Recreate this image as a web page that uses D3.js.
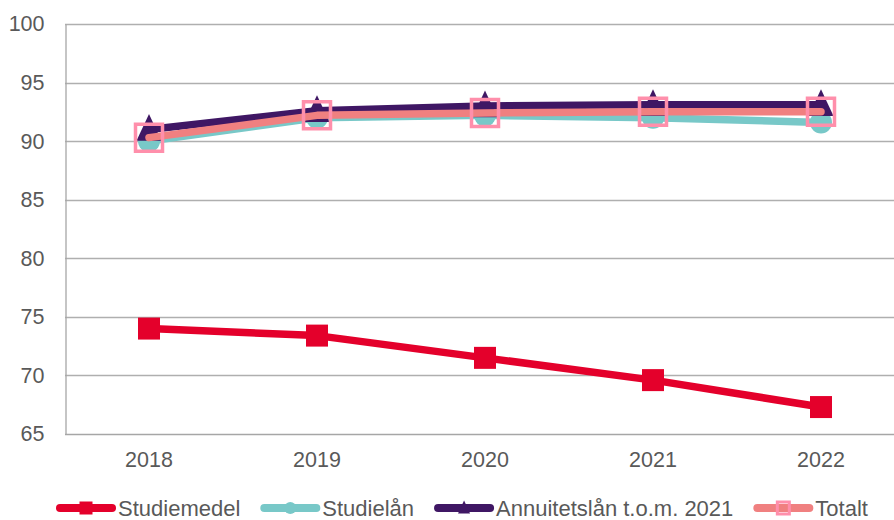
<!DOCTYPE html>
<html>
<head>
<meta charset="utf-8">
<script src="https://cdn.jsdelivr.net/npm/d3@7"></script>
<style>
  html, body { margin: 0; padding: 0; background: #fff; }
  svg { display: block; }
  text { font-family: "Liberation Sans", Arial, sans-serif; fill: #595959; }
</style>
</head>
<body>
<svg id="chart" width="894" height="520"></svg>
<script>
const categories = ["2018", "2019", "2020", "2021", "2022"];
const seriesNames = ["Studiemedel", "Studielån", "Annuitetslån t.o.m. 2021", "Totalt"];
const studiemedel = [74.0, 73.4, 71.5, 69.6, 67.3];
const studielan = [90.0, 92.0, 92.2, 92.0, 91.6];
const annuitetslan = [91.0, 92.6, 93.0, 93.1, 93.1];
const totalt = [90.3, 92.2, 92.4, 92.5, 92.5];
const yTicks = [65, 70, 75, 80, 85, 90, 95, 100];

const series = [
  { name: seriesNames[0], values: studiemedel, line: "#E4002B", marker: "square", mfill: "#E4002B", mstroke: "none" },
  { name: seriesNames[1], values: studielan, line: "#78C8C8", marker: "circle", mfill: "#78C8C8", mstroke: "none" },
  { name: seriesNames[2], values: annuitetslan, line: "#3F1764", marker: "triangle", mfill: "#3F1764", mstroke: "none" },
  { name: seriesNames[3], values: totalt, line: "#F08080", marker: "hollow", mfill: "none", mstroke: "#FF8FAB" }
];

const svg = d3.select("#chart");
const pLeft = 65, pRight = 905, pTop = 24, pBottom = 434;

const x = d3.scaleBand().domain(categories).range([pLeft, pRight]).padding(0);
const y = d3.scaleLinear().domain([65, 100]).range([pBottom, pTop]);

// gridlines
svg.append("g").selectAll("line").data(yTicks.filter(d => d > 65)).join("line")
  .attr("x1", pLeft).attr("x2", 894)
  .attr("y1", d => Math.round(y(d)) + 0.5).attr("y2", d => Math.round(y(d)) + 0.5)
  .attr("stroke", "#AFAFAF").attr("stroke-width", 1.3);

// y axis
const yAxis = svg.append("g").attr("transform", `translate(${pLeft + 0.5},0)`)
  .call(d3.axisLeft(y).tickValues(yTicks).tickSize(0).tickPadding(21));
yAxis.select(".domain").attr("stroke", "#A6A6A6").attr("stroke-width", 1.3);
yAxis.selectAll("text").style("font-size", "21.5px").attr("fill", "#595959")
  .style("font-family", "'Liberation Sans', Arial, sans-serif");

// x axis
const xAxis = svg.append("g").attr("transform", `translate(0,${pBottom + 0.5})`)
  .call(d3.axisBottom(x).tickSize(0).tickPadding(17));
xAxis.select(".domain").attr("stroke", "#A6A6A6").attr("stroke-width", 1.3).attr("d", `M${pLeft},0H894`);
xAxis.selectAll("text").style("font-size", "21.5px").attr("fill", "#595959")
  .style("font-family", "'Liberation Sans', Arial, sans-serif");

function markerPath(type, s) {
  if (type === "square" || type === "hollow") {
    return `M${-s/2},${-s/2}h${s}v${s}h${-s}Z`;
  }
  if (type === "triangle") {
    return `M0,${-s*0.62}L${s*0.5},${s*0.45}L${-s*0.5},${s*0.45}Z`;
  }
  return d3.symbol(d3.symbolCircle, Math.PI * (s/2) * (s/2))();
}

const line = d3.line().x((d, i) => x(categories[i]) + x.bandwidth() / 2).y(d => y(d));

const msize = { square: 22, circle: 22, triangle: 25, hollow: 27 };

series.forEach(s => {
  const g = svg.append("g");
  g.append("path").datum(s.values).attr("d", line)
    .attr("fill", "none").attr("stroke", s.line).attr("stroke-width", 7.5)
    .attr("stroke-linecap", "round").attr("stroke-linejoin", "round");
  g.selectAll("path.m").data(s.values).join("path").attr("class", "m")
    .attr("transform", (d, i) => `translate(${x(categories[i]) + x.bandwidth() / 2},${y(d)})`)
    .attr("d", markerPath(s.marker, msize[s.marker]))
    .attr("fill", s.mfill).attr("stroke", s.mstroke).attr("stroke-width", s.marker === "hollow" ? 3.5 : 0);
});

// legend
const lg = svg.append("g");
let lx = 57;
const ly = 508;
const lsize = { square: 13, circle: 12, triangle: 12, hollow: 12 };
series.forEach(s => {
  const it = lg.append("g");
  it.append("line").attr("x1", lx + 3).attr("x2", lx + 55).attr("y1", ly).attr("y2", ly)
    .attr("stroke", s.line).attr("stroke-width", 8).attr("stroke-linecap", "round");
  it.append("path").attr("transform", `translate(${lx + 29},${ly})`)
    .attr("d", markerPath(s.marker, lsize[s.marker]))
    .attr("fill", s.mfill).attr("stroke", s.mstroke).attr("stroke-width", s.marker === "hollow" ? 3 : 0);
  const t = it.append("text").attr("x", lx + 61).attr("y", ly).attr("dy", "0.35em")
    .style("font-size", "22px").text(s.name);
  const w = t.node().getComputedTextLength();
  lx = lx + 61 + w + 21;
});
</script>
</body>
</html>
